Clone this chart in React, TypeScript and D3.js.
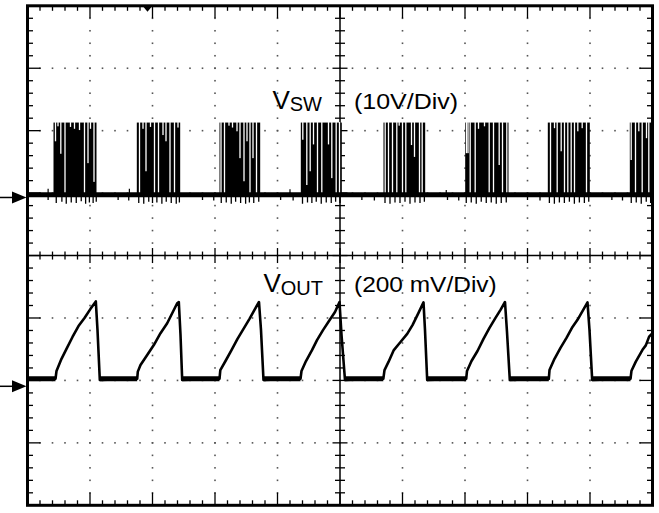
import React from "react";
import * as d3 from "d3";

// ---- scope settings ----
const X_DIVS = 10;
const Y_DIVS = 8;
const MINOR = 5; // minor ticks per division
const VSW_GND_DIV = 0.93; // CH1 ground marker (divisions from centre)
const VSW_PER_DIV = 10; // V/div
const VOUT_GND_DIV = -2.094; // CH2 ground marker (divisions from centre)
const VOUT_PER_DIV = 200; // mV/div
const TRIGGER_T = 1.92; // trigger position (div)

// ---- VSW (V) ----
const vswLow = 0.45;
const vswHigh = 12.0;
const burstStart = [0.416, 1.749, 3.072, 4.373, 5.696, 7.003, 8.325, 9.637];
const burstEnd = [1.104, 2.443, 3.723, 5.029, 6.363, 7.696, 8.997, 10.0];
// off-times inside each burst: time (div) and minimum level reached (V)
const gapT = [
  [0.448, 0.488, 0.533, 0.6, 0.688, 0.752, 0.832, 0.912, 0.968, 1.008, 1.064],
  [1.792, 1.848, 1.896, 1.968, 2.032, 2.096, 2.168, 2.216, 2.28, 2.352, 2.408],
  [3.096, 3.152, 3.224, 3.28, 3.352, 3.4, 3.464, 3.512, 3.56, 3.608, 3.664],
  [4.405, 4.469, 4.523, 4.576, 4.64, 4.709, 4.816, 4.869, 4.939, 4.992],
  [5.723, 5.776, 5.84, 5.909, 5.947, 6.0, 6.053, 6.144, 6.192, 6.272, 6.315],
  [7.024, 7.048, 7.083, 7.163, 7.216, 7.312, 7.387, 7.456, 7.547, 7.6, 7.669],
  [8.368, 8.432, 8.475, 8.539, 8.592, 8.645, 8.699, 8.752, 8.805, 8.875, 8.944],
  [9.659, 9.728, 9.781, 9.835, 9.904, 9.941],
];
const gapV = [
  [9.0, 11.4, 7.0, 0.5, 11.3, 11.0, 10.8, 0.5, 5.5, 11.0, 2.5],
  [0.5, 11.0, 4.2, 11.3, 0.5, 0.5, 10.0, 9.0, 0.5, 0.5, 11.2],
  [0.5, 0.5, 11.5, 11.2, 10.6, 6.3, 2.6, 9.0, 0.5, 6.3, 0.5],
  [9.25, 2.0, 4.2, 8.5, 0.5, 0.5, 8.5, 3.1, 0.5, 0.5],
  [0.5, 0.5, 0.5, 0.5, 11.5, 0.5, 0.5, 8.4, 6.5, 0.5, 0.5],
  [7.1, 7.1, 0.5, 0.5, 11.0, 11.4, 0.5, 0.5, 5.2, 0.5, 0.5],
  [0.5, 11.1, 0.5, 7.4, 0.5, 0.5, 0.5, 0.5, 10.6, 11.1, 0.5],
  [6.0, 0.5, 10.6, 0.5, 9.5, 0.5],
];
// ringing below ground
const glitchT = [
  0.33, 0.46, 0.55, 0.62, 0.7, 0.78, 0.86, 0.93, 0.99, 1.05, 1.1,
  1.45, 1.62, 1.78, 1.86, 1.94, 2.0, 2.07, 2.15, 2.22, 2.3, 2.38, 2.43,
  2.8, 2.98, 3.1, 3.18, 3.26, 3.33, 3.41, 3.49, 3.55, 3.62, 3.7,
  4.05, 4.25, 4.4, 4.48, 4.55, 4.62, 4.7, 4.78, 4.86, 4.93, 5.0,
  5.35, 5.55, 5.72, 5.8, 5.88, 5.96, 6.04, 6.12, 6.2, 6.28, 6.35,
  6.72, 6.9, 7.02, 7.1, 7.18, 7.26, 7.34, 7.42, 7.5, 7.58, 7.66,
  8.0, 8.2, 8.35, 8.43, 8.51, 8.59, 8.67, 8.75, 8.83, 8.91, 8.98,
  9.35, 9.52, 9.66, 9.74, 9.82, 9.9, 9.97,
];
const glitchV = [
  -0.4, -0.9, -0.7, -1.0, -0.8, -0.9, -0.6, -1.0, -0.8, -0.9, -0.7,
  -0.4, -0.5, -0.9, -1.0, -0.7, -0.9, -0.8, -1.0, -0.7, -0.9, -1.0, -0.8,
  -0.4, -0.5, -0.9, -0.8, -1.0, -0.7, -0.9, -1.0, -0.8, -0.9, -0.7,
  -0.4, -0.5, -1.0, -0.8, -0.9, -0.7, -1.0, -0.8, -0.9, -0.7, -0.9,
  -0.4, -0.5, -0.9, -1.0, -0.8, -0.9, -0.7, -1.0, -0.8, -0.9, -0.7,
  -0.4, -0.5, -0.9, -0.8, -1.0, -0.7, -0.9, -0.8, -1.0, -0.9, -0.8,
  -0.4, -0.5, -0.9, -1.0, -0.8, -0.9, -0.7, -1.0, -0.8, -0.9, -0.7,
  -0.4, -0.5, -0.9, -0.8, -1.0, -0.7, -0.9,
];
const spikeT = [0.33, 1.63, 4.2, 6.7];
const spikeV = [1.4, 1.4, 1.3, 1.2];

// ---- VOUT (mV, relative to CH2 marker) ----
const voutBase = 24;
const voutCycles: [number, number][][] = [
  [[0.448, 24], [0.464, 49], [0.544, 88], [0.624, 120], [0.72, 158], [0.816, 193], [0.912, 219], [1.008, 248], [1.093, 272], [1.12, 180], [1.157, 20]],
  [[1.755, 24], [1.765, 47], [1.808, 68], [1.915, 100], [2.021, 132], [2.128, 170], [2.235, 202], [2.315, 234], [2.395, 266], [2.421, 270], [2.448, 165], [2.475, 20]],
  [[3.072, 24], [3.085, 52], [3.168, 81], [3.264, 116], [3.36, 152], [3.456, 184], [3.552, 216], [3.632, 245], [3.704, 270], [3.736, 180], [3.776, 20]],
  [[4.368, 24], [4.384, 49], [4.456, 81], [4.552, 116], [4.632, 148], [4.728, 180], [4.824, 209], [4.92, 238], [4.992, 270], [5.024, 165], [5.08, 20]],
  [[5.693, 24], [5.712, 52], [5.776, 78], [5.861, 116], [5.968, 142], [6.075, 168], [6.16, 196], [6.256, 235], [6.336, 269], [6.36, 180], [6.395, 20]],
  [[7.019, 24], [7.032, 49], [7.104, 81], [7.2, 113], [7.296, 152], [7.392, 187], [7.488, 219], [7.568, 245], [7.64, 270], [7.672, 174], [7.717, 20]],
  [[8.341, 24], [8.352, 52], [8.432, 88], [8.528, 123], [8.624, 155], [8.72, 190], [8.8, 213], [8.88, 241], [8.96, 269], [8.992, 180], [9.035, 20]],
  [[9.648, 24], [9.664, 50], [9.733, 79], [9.84, 117], [9.893, 131], [9.946, 159], [10.0, 170]],
];

const FONT = "'Liberation Sans', Arial, Helvetica, sans-serif";

export default function App() {
  const x = d3.scaleLinear().domain([0, X_DIVS]).range([27.5, 652.5]);
  const yDiv = d3.scaleLinear().domain([-Y_DIVS / 2, Y_DIVS / 2]).range([505.3, 5.8]);
  const ySw = (v: number) => yDiv(VSW_GND_DIV + v / VSW_PER_DIV);
  const yOut = (mv: number) => yDiv(VOUT_GND_DIV + mv / VOUT_PER_DIV);

  const x0 = x(0), x1 = x(X_DIVS), y0 = yDiv(Y_DIVS / 2), y1 = yDiv(-Y_DIVS / 2);
  const xc = x(X_DIVS / 2), yc = yDiv(0);

  const xMinor = d3.range(1, X_DIVS * MINOR);
  const yMinor = d3.range(1, Y_DIVS * MINOR);
  const xPos = (m: number) => x(m / MINOR);
  const yPos = (m: number) => yDiv(-Y_DIVS / 2 + m / MINOR);

  // dotted grid
  const dots: JSX.Element[] = [];
  d3.range(1, X_DIVS).forEach((k) => {
    if (k === X_DIVS / 2) return;
    yMinor.forEach((m) => dots.push(<rect key={`dv${k}-${m}`} x={x(k) - 0.8} y={yPos(m) - 0.8} width={1.6} height={1.6} fill="#555" />));
  });
  d3.range(1, Y_DIVS).forEach((j) => {
    if (j === Y_DIVS / 2) return;
    xMinor.forEach((m) => dots.push(<rect key={`dh${j}-${m}`} x={xPos(m) - 0.8} y={yDiv(-Y_DIVS / 2 + j) - 0.8} width={1.6} height={1.6} fill="#555" />));
  });

  // ticks
  const ticks: JSX.Element[] = [];
  xMinor.forEach((m) => {
    const major = m % MINOR === 0;
    const px = xPos(m);
    const lb = major ? 12.5 : 5;
    ticks.push(<line key={`tt${m}`} x1={px} x2={px} y1={y0} y2={y0 + lb} />);
    ticks.push(<line key={`tb${m}`} x1={px} x2={px} y1={y1} y2={y1 - lb} />);
    const lc = major ? 7.5 : 4;
    ticks.push(<line key={`tc${m}`} x1={px} x2={px} y1={yc - lc} y2={yc + lc} />);
  });
  yMinor.forEach((m) => {
    const major = m % MINOR === 0;
    const py = yPos(m);
    const lb = major ? 13 : 5.5;
    ticks.push(<line key={`tl${m}`} x1={x0} x2={x0 + lb} y1={py} y2={py} />);
    ticks.push(<line key={`tr${m}`} x1={x1} x2={x1 - lb} y1={py} y2={py} />);
    const lc = major ? 7.5 : 5;
    ticks.push(<line key={`tv${m}`} x1={xc - lc} x2={xc + lc} y1={py} y2={py} />);
  });

  // VSW bursts
  const bursts = burstStart.map((s, i) => (
    <rect key={`b${i}`} x={x(s)} y={ySw(vswHigh)} width={x(burstEnd[i]) - x(s)} height={ySw(vswLow) - ySw(vswHigh)} fill="#000" />
  ));
  const gaps: JSX.Element[] = [];
  gapT.forEach((arr, i) =>
    arr.forEach((t, j) => {
      const top = ySw(vswHigh) - 0.5;
      const bot = ySw(gapV[i][j]);
      gaps.push(<rect key={`g${i}-${j}`} x={x(t) - 0.65} y={top} width={1.3} height={bot - top} fill="#fff" />);
    })
  );
  const glitches = glitchT.map((t, i) => (
    <line key={`gl${i}`} x1={x(t)} x2={x(t)} y1={ySw(vswLow)} y2={ySw(glitchV[i])} stroke="#000" strokeWidth={1.3} />
  ));
  const spikes = spikeT.map((t, i) => (
    <line key={`sp${i}`} x1={x(t)} x2={x(t)} y1={ySw(vswLow)} y2={ySw(spikeV[i])} stroke="#000" strokeWidth={1.2} />
  ));

  // VOUT
  const voutPts: [number, number][] = [[0, voutBase], ...voutCycles.flat()];
  const line = d3.line<[number, number]>().x((d) => x(d[0])).y((d) => yOut(d[1]));
  const flats: [number, number][] = [];
  flats.push([0, voutCycles[0][0][0]]);
  for (let i = 0; i < voutCycles.length - 1; i++) {
    const c = voutCycles[i];
    flats.push([c[c.length - 1][0], voutCycles[i + 1][0][0]]);
  }

  const arrow = (yy: number, key: string) => (
    <g key={key}>
      <line x1={0} x2={13} y1={yy} y2={yy} stroke="#000" strokeWidth={1.5} />
      <path d={`M12,${yy - 6}L12,${yy + 6}L${x0 - 1},${yy}Z`} fill="#000" />
    </g>
  );

  const tx = x(TRIGGER_T);

  return (
    <svg width={659} height={513} style={{ position: "absolute", left: 0, top: 0, background: "#fff" }}>
      <rect x={0} y={0} width={659} height={513} fill="#fff" />
      <defs>
        <clipPath id="plot">
          <rect x={x0} y={y0} width={x1 - x0} height={y1 - y0} />
        </clipPath>
      </defs>
      {dots}
      <g stroke="#000" strokeWidth={1.3}>
        <line x1={x0} x2={x1} y1={yc} y2={yc} strokeWidth={1.5} />
        <line x1={xc} x2={xc} y1={y0} y2={y1} strokeWidth={1.5} />
        {ticks}
      </g>
      <g clipPath="url(#plot)">
        {bursts}
        {gaps}
        <line x1={x0} x2={x1} y1={ySw(vswLow)} y2={ySw(vswLow)} stroke="#000" strokeWidth={5} />
        {glitches}
        {spikes}
        <path d={line(voutPts) || ""} fill="none" stroke="#000" strokeWidth={2.6} strokeLinejoin="round" />
        {flats.map((f, i) => (
          <line key={`f${i}`} x1={x(f[0])} x2={x(f[1])} y1={yOut(voutBase)} y2={yOut(voutBase)} stroke="#000" strokeWidth={5} />
        ))}
      </g>
      <g fontFamily={FONT} fill="#000">
        <text x={322} y={108.5} textAnchor="end" fontSize={26}>
          <tspan>V</tspan>
          <tspan fontSize={20} dy={2.5}>SW</tspan>
        </text>
        <text x={354} y={108.5} fontSize={22.5} textLength={104} lengthAdjust="spacingAndGlyphs">(10V/Div)</text>
        <text x={323} y={292} textAnchor="end" fontSize={26}>
          <tspan>V</tspan>
          <tspan fontSize={20} dy={2.5}>OUT</tspan>
        </text>
        <text x={354} y={291.7} fontSize={22.5} textLength={142.7} lengthAdjust="spacingAndGlyphs">(200 mV/Div)</text>
      </g>
      <rect x={x0} y={y0} width={x1 - x0} height={y1 - y0} fill="none" stroke="#000" strokeWidth={3} />
      {arrow(ySw(0), "a1")}
      {arrow(yOut(0), "a2")}
      <path d={`M${tx - 5},${y0}L${tx + 5},${y0}L${tx},${y0 + 6}Z`} fill="#000" />
    </svg>
  );
}
